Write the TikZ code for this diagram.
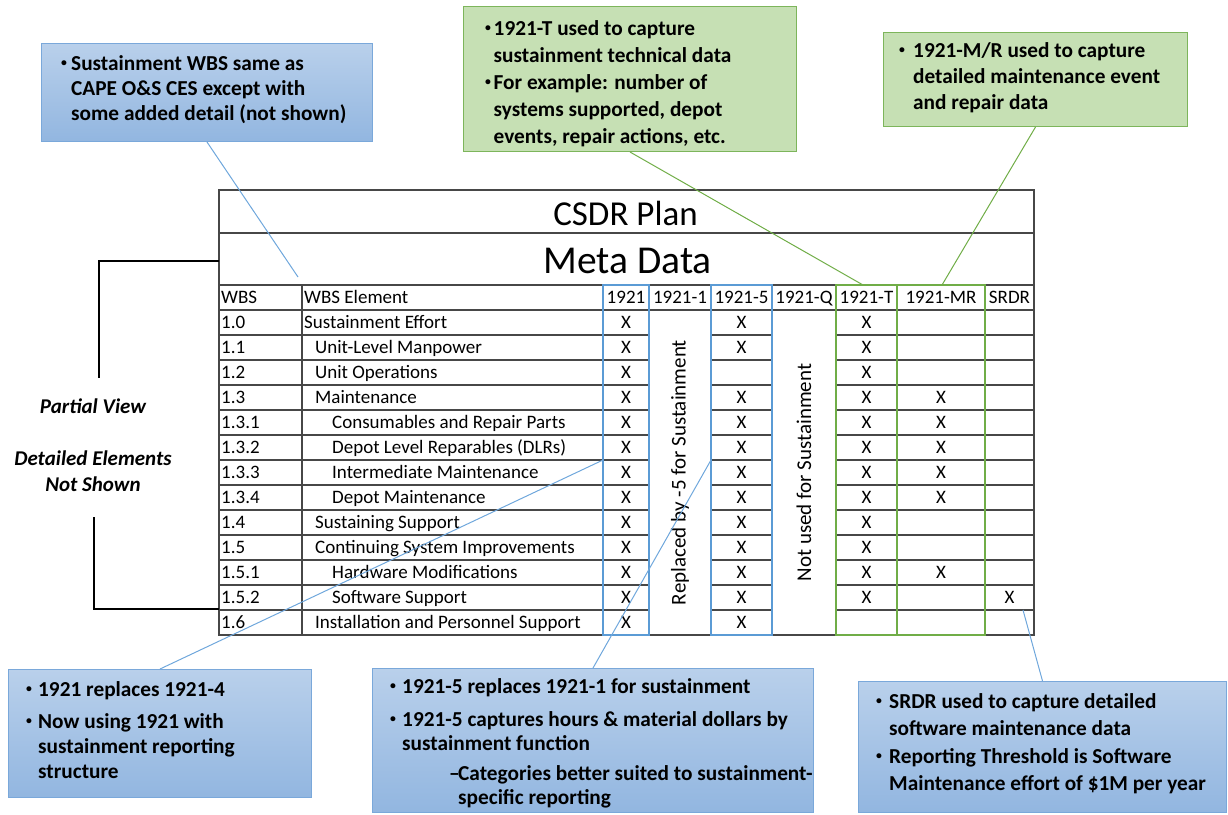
\documentclass[tikz,border=0pt]{standalone}
\usepackage{fontspec}
\usepackage{graphicx}
\setmainfont{Carlito}
\definecolor{tblline}{HTML}{474747}
\definecolor{colblue}{HTML}{5B9BD5}
\definecolor{colgreen}{HTML}{70AD47}
\definecolor{cbTop}{HTML}{B9D0EB}
\definecolor{cbBot}{HTML}{92B6E0}
\definecolor{cbEdge}{HTML}{7AA8DA}
\definecolor{cgFill}{HTML}{C6E0B4}
\definecolor{cgEdge}{HTML}{7DB55B}
\definecolor{linkblue}{HTML}{6FA7DC}
% small round bullet in a box of the given width
\newcommand\cbullet[1]{\makebox[#1][l]{\raisebox{0.3ex}{\scalebox{0.55}{\textbullet}}}}
\begin{document}
\begin{tikzpicture}[x=1pt,y=-1pt,
  grid/.style={draw=tblline,line width=1.2pt},
  cell/.style={inner sep=0pt,font=\fontsize{19}{22}\selectfont},
  bluebox/.style={draw=cbEdge,line width=1pt,top color=cbTop,bottom color=cbBot,anchor=north west,inner sep=0pt},
  greenbox/.style={draw=cgEdge,line width=1pt,fill=cgFill,anchor=north west,inner sep=0pt},
  ctext/.style={anchor=base west,inner sep=0pt},
  bluelink/.style={draw=linkblue,line width=1pt},
  greenlink/.style={draw=colgreen,line width=1pt},
  bracket/.style={draw=black,line width=1.3pt},
  sidelabel/.style={anchor=base,inner sep=0pt,font=\bfseries\itshape\fontsize{21}{24}\selectfont}]
\useasboundingbox (0,0) rectangle (1228,814);

% ---------- table grid ----------
\draw[grid] (219,190) rectangle (1034,635);
\draw[grid] (219,233) -- (1034,233);
\draw[grid] (219,285) -- (1034,285);
\draw[grid] (219,310) -- (1034,310);
\foreach \cx in {302,603,649,711,772,836,897,985}
  \draw[grid] (\cx,285) -- (\cx,635);
\foreach \k in {1,...,12}{
  \draw[grid] (219,{310+25*\k}) -- (649,{310+25*\k});
  \draw[grid] (711,{310+25*\k}) -- (772,{310+25*\k});
  \draw[grid] (836,{310+25*\k}) -- (1034,{310+25*\k});
}
% highlighted columns
\draw[draw=colblue,line width=1.4pt] (603,285) rectangle (649,635);
\draw[draw=colblue,line width=1.4pt] (711,285) rectangle (772,635);
\draw[draw=colgreen,line width=1.4pt] (836,285) rectangle (897,635);
\draw[draw=colgreen,line width=1.4pt] (897,285) rectangle (985,635);

% ---------- titles ----------
\node[anchor=base,inner sep=0pt,font=\fontsize{35}{40}\selectfont] (plan) at (625.5,225) {CSDR Plan};
\node[anchor=base,inner sep=0pt,font=\fontsize{39.5}{46}\selectfont] (meta) at (627.5,273) {Meta Data};

% ---------- header row ----------
\node[cell,anchor=base west] (hWBS) at (221,303.5) {WBS};
\node[cell,anchor=base west] (hEl) at (304,303.5) {WBS Element};
\foreach \n/\cx/\t in {h1921/626/1921, h1/680/1921-1, h5/741.5/1921-5, hQ/804/1921-Q, hT/866.5/1921-T, hMR/941/1921-MR, hS/1009.5/SRDR}
  \node[cell,anchor=base] (\n) at (\cx,303.5) {\t};

% ---------- data rows ----------
\foreach \r/\w/\e/\ind in {0/1.0/Sustainment Effort/0, 1/1.1/Unit-Level Manpower/11,
   2/1.2/Unit Operations/11, 3/1.3/Maintenance/11, 4/1.3.1/Consumables and Repair Parts/28,
   5/1.3.2/Depot Level Reparables (DLRs)/28, 6/1.3.3/Intermediate Maintenance/28,
   7/1.3.4/Depot Maintenance/28, 8/1.4/Sustaining Support/11,
   9/1.5/Continuing System Improvements/11, 10/1.5.1/Hardware Modifications/28,
   11/1.5.2/Software Support/28, 12/1.6/Installation and Personnel Support/11}{
  \node[cell,anchor=base west] (wbs-\r) at (221,{328.5+25*\r}) {\w};
  \node[cell,anchor=base west] (el-\r) at ({304+\ind},{328.5+25*\r}) {\e};
}

% ---------- marks ----------
\foreach \c/\cx/\rows in {a/626/{0,1,2,3,4,5,6,7,8,9,10,11,12},
    b/741.5/{0,1,3,4,5,6,7,8,9,10,11,12},
    t/866.5/{0,1,2,3,4,5,6,7,8,9,10,11},
    m/941/{3,4,5,6,7,10},
    s/1009.5/{11}}{
  \foreach \r in \rows
    \node[cell,anchor=base] (x\c-\r) at (\cx,{328.5+25*\r}) {X};
}

% merged cells
\node[rotate=90,inner sep=0pt,font=\fontsize{21}{24}\selectfont] (repl) at (680,472.5) {Replaced by -5 for Sustainment};
\node[rotate=90,inner sep=0pt,font=\fontsize{21}{24}\selectfont] (notused) at (804,472.5) {Not used for Sustainment};

% ---------- side bracket ----------
\coordinate (brA) at (219,261);
\coordinate (brB) at (99,261);
\coordinate (brC) at (99,378);
\coordinate (brD) at (94,517);
\coordinate (brE) at (94,609);
\coordinate (brF) at (219,609);
\draw[bracket] (brA) -- (brB) -- (brC);
\draw[bracket] (brD) -- (brE) -- (brF);
\node[sidelabel] (pview) at (93,413) {Partial View};
\node[sidelabel] (detail) at (93,465) {Detailed Elements};
\node[sidelabel] (notshown) at (93,491) {Not Shown};

% ---------- callouts ----------
\node[bluebox,minimum width=331pt,minimum height=98pt] (cWBS) at (41,43) {};
\node[ctext,font=\bfseries\fontsize{21.3}{25}\selectfont] (cWBS-t) at (61,70)
  {\begin{tabular}[t]{@{}l@{}l@{}}\cbullet{10pt}&Sustainment WBS same as\\ &CAPE O\&S CES except with\\ &some added detail (not shown)\end{tabular}};

\node[greenbox,minimum width=333pt,minimum height=145pt] (cT) at (463,6) {};
\node[ctext,font=\bfseries\fontsize{21.3}{27}\selectfont] (cT-t) at (485,35)
  {\begin{tabular}[t]{@{}l@{}l@{}}\cbullet{8.5pt}&1921-T used to capture\\ &sustainment technical data\\
   \cbullet{8.5pt}&For example: number of\\ &systems supported, depot\\ &events, repair actions, etc.\end{tabular}};

\node[greenbox,minimum width=304pt,minimum height=94pt] (cMR) at (883,32) {};
\node[ctext,font=\bfseries\fontsize{21.3}{26}\selectfont] (cMR-t) at (899,57)
  {\begin{tabular}[t]{@{}l@{}l@{}}\cbullet{14pt}&1921-M/R used to capture\\ &detailed maintenance event\\ &and repair data\end{tabular}};

\node[bluebox,minimum width=303pt,minimum height=128pt] (c1921) at (8,669) {};
\node[ctext,font=\bfseries\fontsize{21.3}{25}\selectfont] (c1921-t) at (26,696)
  {\begin{tabular}[t]{@{}l@{}l@{}}\cbullet{12pt}&1921 replaces 1921-4\\[7pt]
   \cbullet{12pt}&Now using 1921 with\\ &sustainment reporting\\ &structure\end{tabular}};

\node[bluebox,minimum width=441pt,minimum height=144pt] (c5) at (372,668) {};
\node[ctext,font=\bfseries\fontsize{21.3}{24}\selectfont] (c5-t) at (390,693)
  {\begin{tabular}[t]{@{}l@{}l@{}}\cbullet{12pt}&1921-5 replaces 1921-1 for sustainment\\[9pt]
   \cbullet{12pt}&1921-5 captures hours \& material dollars by\\ &sustainment function\\[6pt]
   &\hspace{47pt}\makebox[9pt][l]{–}Categories better suited to sustainment-\\ &\hspace{56pt}specific reporting\end{tabular}};

\node[bluebox,minimum width=368pt,minimum height=131pt] (cS) at (858,681) {};
\node[ctext,font=\bfseries\fontsize{21.3}{27.5}\selectfont] (cS-t) at (876,708)
  {\begin{tabular}[t]{@{}l@{}l@{}}\cbullet{13pt}&SRDR used to capture detailed\\ &software maintenance data\\
   \cbullet{13pt}&Reporting Threshold is Software\\ &Maintenance effort of \$1M per year\end{tabular}};

% ---------- connectors ----------
\coordinate (tipWBS) at (298,277);
\coordinate (tipT) at (863,285);
\coordinate (tipMR) at (942,285);
\coordinate (tip1921) at (603,460);
\coordinate (tip5) at (711,460);
\coordinate (tipS) at (1023,610);
\draw[bluelink] (cWBS.south) -- (tipWBS);
\draw[greenlink] (cT.south) -- (tipT);
\draw[greenlink] (cMR.south) -- (tipMR);
\draw[bluelink] (c1921.north) -- (tip1921);
\draw[bluelink] (c5.north) -- (tip5);
\draw[bluelink] (cS.north) -- (tipS);
\end{tikzpicture}
\end{document}
